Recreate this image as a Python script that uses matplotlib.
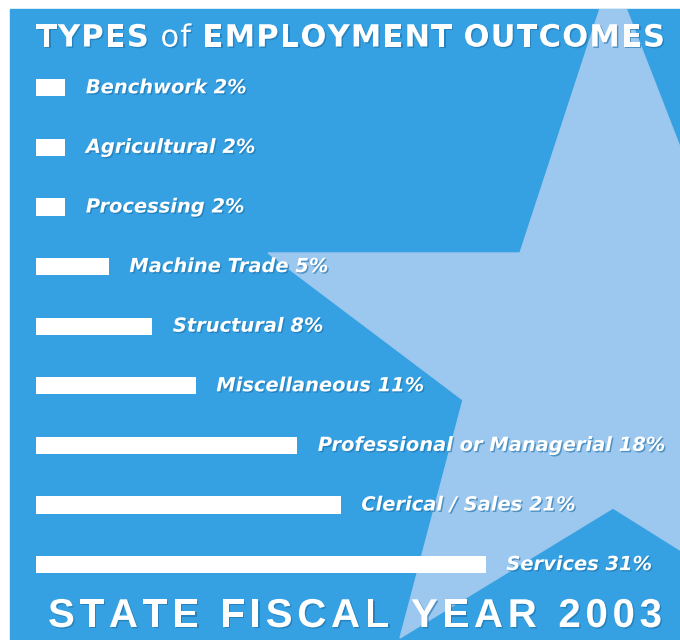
import matplotlib.pyplot as plt
from matplotlib.patches import Rectangle, Polygon
import matplotlib.patheffects as pe

categories = ["Benchwork", "Agricultural", "Processing", "Machine Trade", "Structural",
              "Miscellaneous", "Professional or Managerial", "Clerical / Sales", "Services"]
values = [2, 2, 2, 5, 8, 11, 18, 21, 31]
title_parts = [("TYPES ", "bold"), ("of ", "normal"), ("EMPLOYMENT OUTCOMES", "bold")]
footer = "STATE FISCAL YEAR 2003"

BLUE = "#35a1e2"
LIGHT = "#9cc7ee"
SHADOW = "#1d6fa8"
FONT = ["DejaVu Sans"]

fig = plt.figure(figsize=(6.8, 6.4), dpi=100, facecolor="white")

# background in pixel coordinates
bg = fig.add_axes([0, 0, 1, 1])
bg.set_xlim(0, 680)
bg.set_ylim(640, 0)
bg.axis("off")

panel = Rectangle((10, 9), 670, 631, color=BLUE, zorder=0)
bg.add_patch(panel)

# decorative star, partly outside the panel
star_pts = [(612, -28), (520, 253), (268, 253), (463, 400), (400, 638),
            (613, 508), (814, 634), (760, 400), (900, 250), (720, 250)]
star = Polygon(star_pts, closed=True, color=LIGHT, zorder=1)
bg.add_patch(star)
star.set_clip_path(panel)

shadow = [pe.withSimplePatchShadow(offset=(1, -1), shadow_rgbFace=SHADOW, alpha=0.6)]


def spaced_text(parts, x0, x1, y, size, family):
    r = fig.canvas.get_renderer()
    items = []
    for s, w in parts:
        for ch in s:
            t = bg.text(0, y, ch, fontsize=size, fontweight=w, color="white",
                        va="center", ha="left", family=family, zorder=5,
                        path_effects=shadow)
            items.append((t, ch))
    widths = []
    for t, ch in items:
        if ch == " ":
            widths.append(0.3 * size * 100 / 72)
        else:
            widths.append(t.get_window_extent(r).width)
    gap = (x1 - x0 - sum(widths)) / (len(items) - 1)
    x = x0
    for (t, ch), w in zip(items, widths):
        t.set_x(x)
        x += w + gap


spaced_text(title_parts, 36, 665, 38, 22, FONT)
spaced_text([(footer, "bold")], 48, 662, 616, 29, ["Liberation Sans", "DejaVu Sans"])

# bars: 14.5 px per percent, starting at x = 36 px
px_per = 14.5
top_px, row_px = 58, 59.6
ax = fig.add_axes([36 / 680, 1 - (top_px + 9 * row_px) / 640,
                   644 / 680, 9 * row_px / 640])
ax.set_xlim(0, 644 / px_per)
ax.set_ylim(8.5, -0.5)
ax.axis("off")
ax.patch.set_alpha(0)

ax.barh(range(len(values)), values, height=0.29, color="white", zorder=3)

for i, (c, v) in enumerate(zip(categories, values)):
    ax.annotate(f"{c} {v}%", xy=(v, i), xytext=(15, 0), textcoords="offset points",
                va="center", ha="left", color="white", fontsize=14,
                fontstyle="italic", fontweight="bold", family=FONT,
                path_effects=shadow, zorder=5)

fig.savefig("out.png", dpi=100, facecolor="white")
